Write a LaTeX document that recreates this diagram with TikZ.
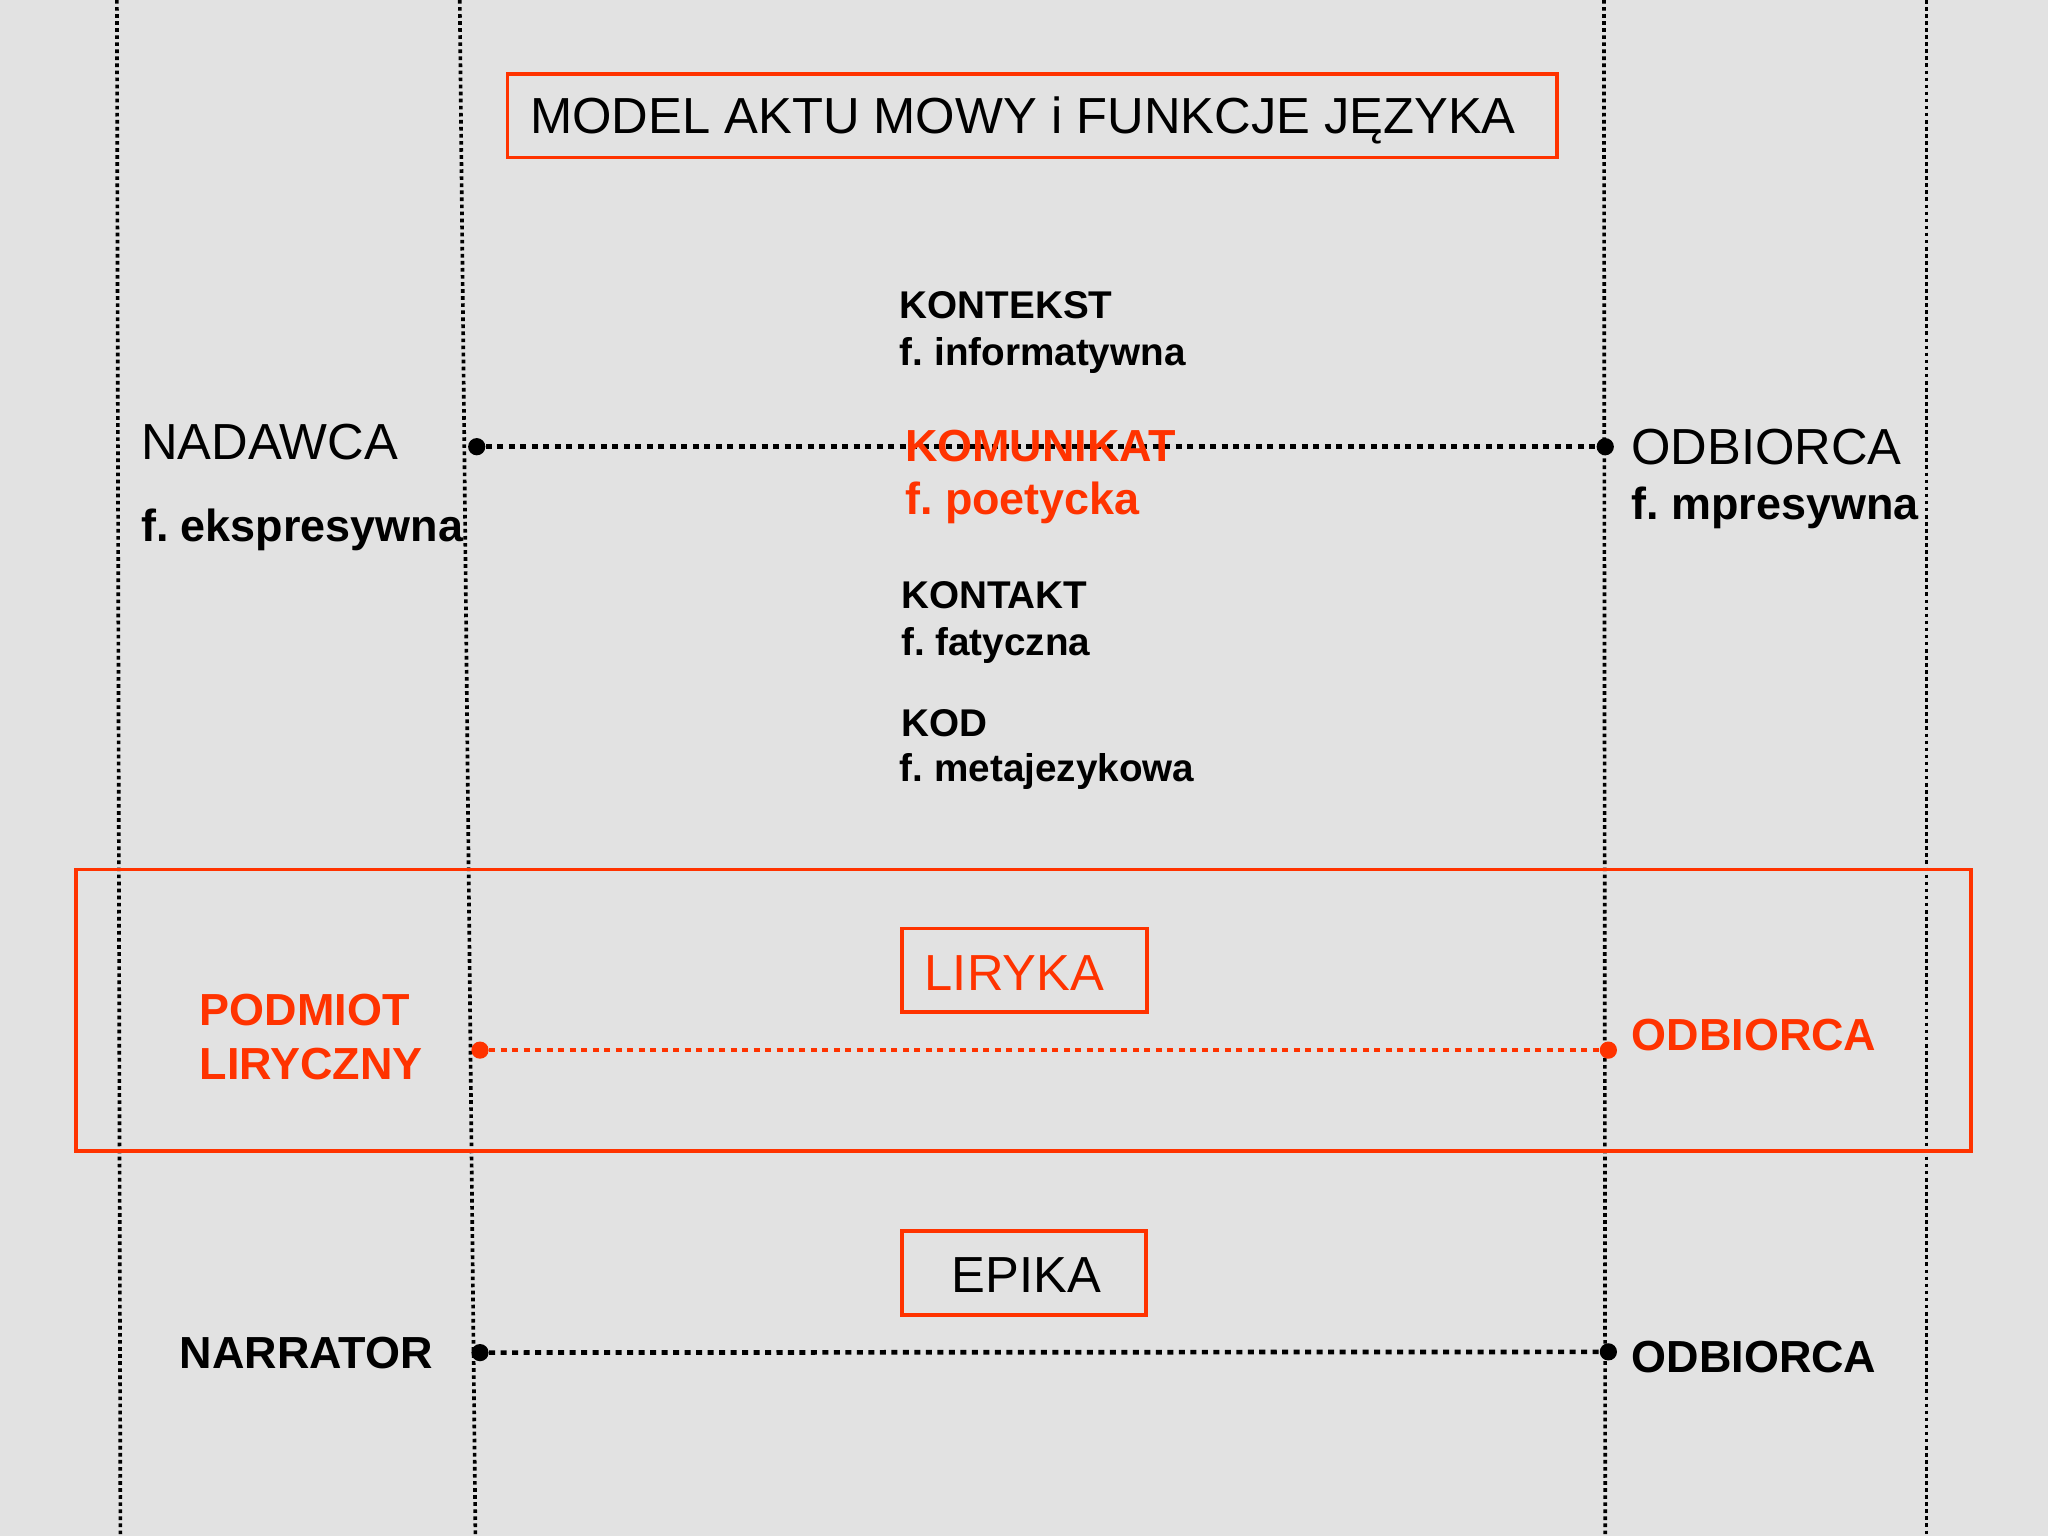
\documentclass[tikz,border=0pt]{standalone}
\usepackage{fontspec}
\setmainfont{Liberation Sans}
\usepackage{xcolor}
\usepackage{tikz}
\frenchspacing

\begin{document}
\begin{tikzpicture}[x=0.5pt,y=-0.5pt,
  lbl/.style={anchor=base west,inner sep=0pt,outer sep=0pt},
  big/.style={font=\fontsize{19.4}{23}\selectfont},
  side/.style={font=\fontsize{17.2}{20}\selectfont\bfseries},
  mid/.style={font=\fontsize{14.8}{18}\selectfont\bfseries},
  dot/.style={circle,fill=#1,draw=none,inner sep=0pt,minimum size=6.6pt},
  link/.style={draw=#1,line width=1.8pt,dash pattern=on 2.3pt off 2.1pt},
  rule/.style={draw=black,line width=1.4pt,dash pattern=on 1.4pt off 1.3pt},
  frame/.style={draw=redColor,line width=1.4pt}]
\definecolor{fillColor}{RGB}{226,226,226}
\definecolor{redColor}{RGB}{255,51,0}
\path[use as bounding box,fill=fillColor] (0,0) rectangle (1568,1176);

% vertical rules
\path[rule] (89.5,0) -- (92.2,1176);
\path[rule] (352,0) -- (364,1176);
\path[rule] (1228,0) -- (1229,1176);
\path[rule] (1475,0) -- (1475,1176);

% title
\path[frame] (388.5,56.5) rectangle (1192,120.5);
\node[lbl,big] (title) at (406,102) {MODEL AKTU MOWY i FUNKCJE JĘZYKA};

% speech act model
\node[dot=black] (nadDot) at (365,342) {};
\node[dot=black] (odbDot) at (1229,342) {};
\path[link=black] (nadDot) -- (odbDot);

\node[lbl,mid] (kontekst) at (689,244) {KONTEKST};
\node[lbl,mid] (kontekstFn) at (689,279.5) {f. informatywna};

\node[lbl,big] (nadawca) at (108,352) {NADAWCA};
\node[lbl,side] (nadawcaFn) at (108,414.7) {f. ekspresywna};

\node[lbl,side,text=redColor] (komunikat) at (693,353) {KOMUNIKAT};
\node[lbl,side,text=redColor] (komunikatFn) at (693,394) {f. poetycka};

\node[lbl,big] (odbiorca) at (1249,356) {ODBIORCA};
\node[lbl,side] (odbiorcaFn) at (1249,398) {f. mpresywna};

\node[lbl,mid] (kontakt) at (690,466) {KONTAKT};
\node[lbl,mid] (kontaktFn) at (690,501.5) {f. fatyczna};
\node[lbl,mid] (kod) at (690,564) {KOD};
\node[lbl,mid] (kodFn) at (689,598.5) {f. metajezykowa};

% lyric
\path[frame] (58,665.6) rectangle (1509,881);
\path[frame] (690.4,710.8) rectangle (878,774.6);
\node[lbl,big,text=redColor] (liryka) at (708,758.5) {LIRYKA};

\node[lbl,side,text=redColor] (podmiot) at (153,785) {PODMIOT};
\node[lbl,side,text=redColor] (podmiotB) at (153,826.4) {LIRYCZNY};
\node[dot=redColor] (podDot) at (367.5,804) {};
\node[dot=redColor] (odbLirDot) at (1231.4,804) {};
\path[link=redColor] (podDot) -- (odbLirDot);
\node[lbl,side,text=redColor] (odbLir) at (1249.3,804.4) {ODBIORCA};

% epic
\path[frame] (690.4,942.3) rectangle (877.4,1006.8);
\node[lbl,big] (epika) at (728.6,989.7) {EPIKA};

\node[lbl,side] (narrator) at (137.8,1047.6) {NARRATOR};
\node[dot=black] (narDot) at (367.5,1035.6) {};
\node[dot=black] (odbEpDot) at (1231.4,1035) {};
\path[link=black] (narDot) -- (odbEpDot);
\node[lbl,side] (odbEp) at (1249.3,1051) {ODBIORCA};
\end{tikzpicture}
\end{document}
